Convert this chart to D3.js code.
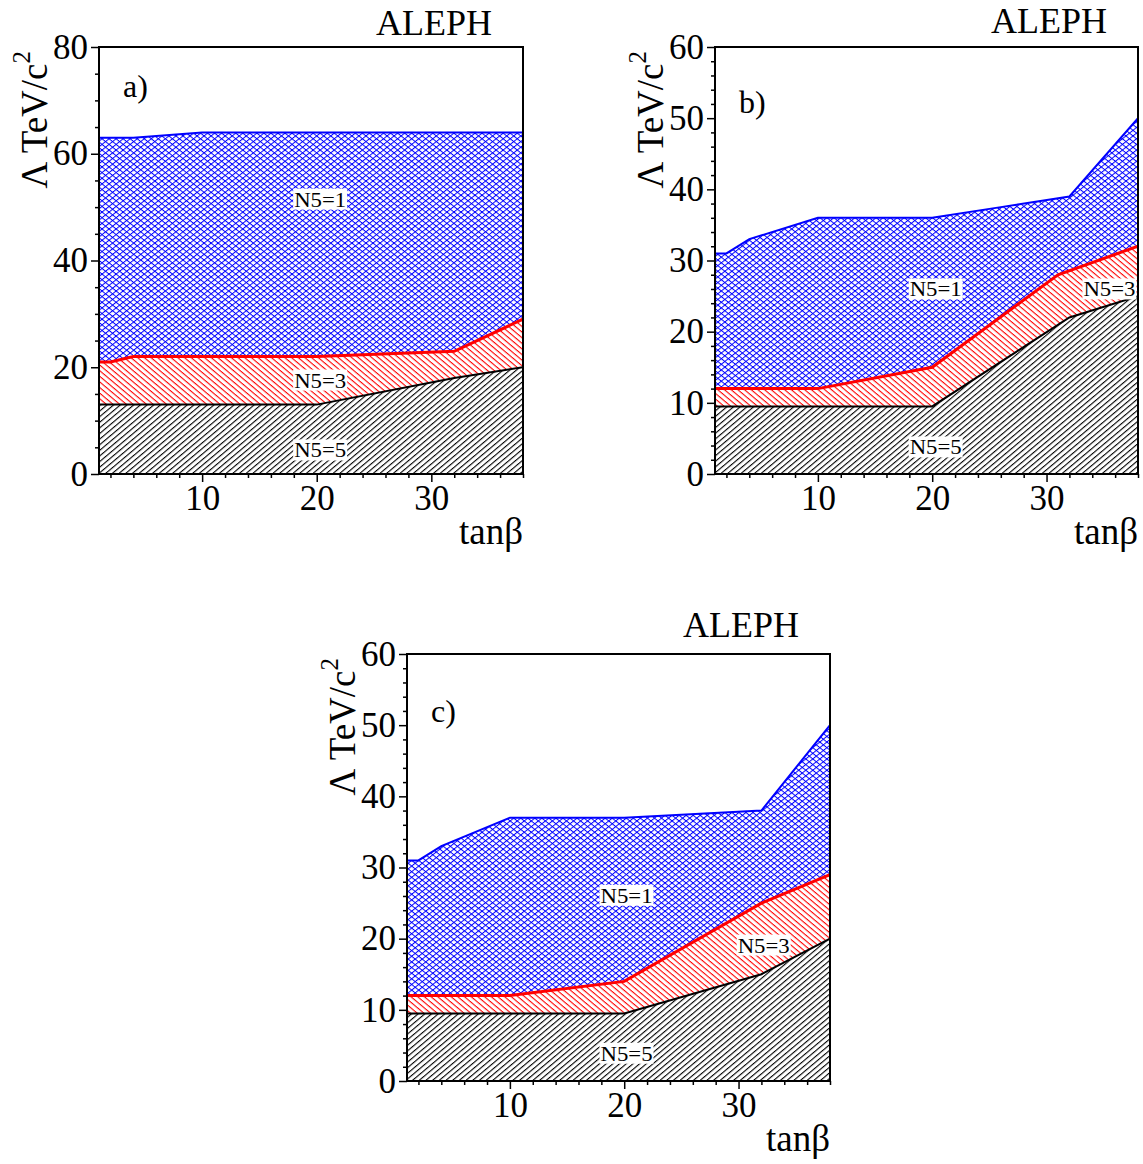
<!DOCTYPE html>
<html><head><meta charset="utf-8">
<script src="https://cdn.jsdelivr.net/npm/d3@7"></script>
<style>
body{margin:0;background:#fff}
text{font-family:"Liberation Serif","Times New Roman",serif;fill:#000}
</style>
</head><body>
<svg id="chart" width="1143" height="1164"></svg>
<script>
// ---------------- data ----------------
const xTicks = [10, 20, 30];
const yTicksA = [0, 20, 40, 60, 80];
const yTicksBC = [0, 10, 20, 30, 40, 50, 60];
const panelNames = ["a)", "b)", "c)"];
const labelTexts = ["N5=1", "N5=3", "N5=5"];

// panel a
const tanbA_n1 = [1, 4, 10, 20, 32, 38];
const lamA_n1  = [63, 63, 64, 64, 64, 64];
const tanbA_n3 = [1, 2, 4, 10, 20, 32, 38];
const lamA_n3  = [21, 21, 22, 22, 22, 23, 29];
const tanbA_n5 = [1, 20, 32, 38];
const lamA_n5  = [13, 13, 18, 20];
const labelA = [[20.3, 51.5], [20.3, 17.6], [20.3, 4.5]];

// panel b
const tanbB_n1 = [1, 2, 4, 10, 20, 26, 32, 38];
const lamB_n1  = [31, 31, 33, 36, 36, 37.5, 39, 50];
const tanbB_n3 = [1, 10, 20, 31, 38];
const lamB_n3  = [12, 12, 15, 28, 32];
const tanbB_n5 = [1, 20, 32, 38];
const lamB_n5  = [9.5, 9.5, 22, 25];
const labelB = [[20.3, 26.0], [35.5, 26.0], [20.3, 3.8]];

// panel c
const tanbC_n1 = [1, 2, 4, 10, 20, 32, 38];
const lamC_n1  = [31, 31, 33, 37, 37, 38, 50];
const tanbC_n3 = [1, 10, 20, 32, 38];
const lamC_n3  = [12, 12, 14, 25, 29];
const tanbC_n5 = [1, 20, 32, 38];
const lamC_n5  = [9.5, 9.5, 15, 20];
const labelC = [[20.2, 26.1], [32.2, 19.1], [20.2, 3.9]];

// ---------------- layout ----------------
const FONT = '"Liberation Serif","Times New Roman",serif';
const svg = d3.select("#chart");
const defs = svg.append("defs");

function hatch(id, color, angle, spacing, w) {
  const p = defs.append("pattern").attr("id", id)
    .attr("patternUnits", "userSpaceOnUse")
    .attr("width", 20).attr("height", spacing)
    .attr("patternTransform", `rotate(${angle})`);
  p.append("rect").attr("x", 0).attr("y", 0).attr("width", 20).attr("height", w).attr("fill", color);
}
hatch("blue1", "#0000ff", -38.7, 4.4, 1.0);
hatch("blue2", "#0000ff", 38.7, 4.4, 1.0);
hatch("red1", "#ff0000", 40, 4.3, 1.1);
hatch("black1", "#000000", -40, 4.3, 1.1);

const panels = [
  {box: {l: 99, t: 47, w: 424, h: 427}, yMax: 80, yTicks: yTicksA, yMinorStep: 5,
   n1: [tanbA_n1, lamA_n1], n3: [tanbA_n3, lamA_n3], n5: [tanbA_n5, lamA_n5], labels: labelA,
   alephDy: -12, nameDy: 50},
  {box: {l: 715, t: 47, w: 423, h: 427}, yMax: 60, yTicks: yTicksBC, yMinorStep: 2,
   n1: [tanbB_n1, lamB_n1], n3: [tanbB_n3, lamB_n3], n5: [tanbB_n5, lamB_n5], labels: labelB,
   alephDy: -14, nameDy: 66},
  {box: {l: 407, t: 654, w: 423, h: 427}, yMax: 60, yTicks: yTicksBC, yMinorStep: 2,
   n1: [tanbC_n1, lamC_n1], n3: [tanbC_n3, lamC_n3], n5: [tanbC_n5, lamC_n5], labels: labelC,
   alephDy: -17, nameDy: 68}
];

panels.forEach((P, i) => {
  const b = P.box;
  const x = d3.scaleLinear().domain([1, 38]).range([b.l, b.l + b.w]);
  const y = d3.scaleLinear().domain([0, P.yMax]).range([b.t + b.h, b.t]);
  const g = svg.append("g");

  const clipId = "clip" + i;
  defs.append("clipPath").attr("id", clipId).append("rect")
    .attr("x", b.l).attr("y", b.t).attr("width", b.w).attr("height", b.h);

  const pts = (arr) => arr[0].map((v, k) => [v, arr[1][k]]);
  const up1 = pts(P.n1), up3 = pts(P.n3), up5 = pts(P.n5);
  const base = [[1, 0], [38, 0]];
  const line = d3.line().x(d => x(d[0])).y(d => y(d[1]));
  const band = (upper, lower) => line(upper.concat(lower.slice().reverse())) + "Z";

  const plot = g.append("g").attr("clip-path", `url(#${clipId})`);
  const dBlue = band(up1, up3), dRed = band(up3, up5), dBlack = band(up5, base);
  plot.append("path").attr("d", dBlue).attr("fill", "url(#blue1)");
  plot.append("path").attr("d", dBlue).attr("fill", "url(#blue2)");
  plot.append("path").attr("d", dRed).attr("fill", "url(#red1)");
  plot.append("path").attr("d", dBlack).attr("fill", "url(#black1)");
  plot.append("path").attr("d", line(up1)).attr("fill", "none").attr("stroke", "#0000ff").attr("stroke-width", 2);
  plot.append("path").attr("d", line(up3)).attr("fill", "none").attr("stroke", "#ff0000").attr("stroke-width", 3);
  plot.append("path").attr("d", line(up5)).attr("fill", "none").attr("stroke", "#000").attr("stroke-width", 2);

  P.labels.forEach((lp, k) => {
    const t = g.append("text").attr("x", x(lp[0])).attr("y", y(lp[1]))
      .attr("text-anchor", "middle").attr("dominant-baseline", "central")
      .attr("font-size", 22).attr("textLength", 52).attr("lengthAdjust", "spacingAndGlyphs")
      .text(labelTexts[k]);
    const bb = t.node().getBBox();
    g.insert("rect", () => t.node()).attr("x", bb.x - 1).attr("y", bb.y + 2)
      .attr("width", bb.width + 2).attr("height", bb.height - 4).attr("fill", "#fff");
  });

  g.append("rect").attr("x", b.l).attr("y", b.t).attr("width", b.w).attr("height", b.h)
    .attr("fill", "none").attr("stroke", "#000").attr("stroke-width", 2);

  const yMinor = d3.range(0, P.yMax + 0.001, P.yMinorStep).filter(v => !P.yTicks.includes(v));
  const axes = g.append("g").attr("font-family", FONT);
  axes.append("g").attr("transform", `translate(${b.l},0)`)
    .call(d3.axisLeft(y).tickValues(P.yTicks).tickSize(8).tickPadding(3).tickFormat(d3.format("d")));
  axes.append("g").attr("transform", `translate(${b.l},0)`)
    .call(d3.axisLeft(y).tickValues(yMinor).tickSize(4).tickFormat(""));
  const xMinor = d3.range(2, 38.001, 2).filter(v => !xTicks.includes(v));
  axes.append("g").attr("transform", `translate(0,${b.t + b.h})`)
    .call(d3.axisBottom(x).tickValues(xTicks).tickSize(8).tickPadding(3).tickFormat(d3.format("d")));
  axes.append("g").attr("transform", `translate(0,${b.t + b.h})`)
    .call(d3.axisBottom(x).tickValues(xMinor).tickSize(4).tickFormat(""));
  axes.selectAll("g").attr("font-family", FONT);
  axes.selectAll(".domain").remove();
  axes.selectAll(".tick line").attr("stroke", "#000").attr("stroke-width", 1.5);
  axes.selectAll(".tick text").attr("font-size", 35).attr("fill", "#000");

  g.append("text").attr("x", b.l + b.w).attr("y", b.t + b.h + 70)
    .attr("text-anchor", "end").attr("font-size", 37).text("tanβ");

  const yt = g.append("text")
    .attr("transform", `translate(${b.l - 52},${b.t + 4}) rotate(-90)`)
    .attr("text-anchor", "end").attr("font-size", 37);
  yt.append("tspan").text("Λ TeV/c");
  yt.append("tspan").attr("font-size", 25).attr("dy", -17).text("2");

  g.append("text").attr("x", b.l + b.w - 31).attr("y", b.t + P.alephDy)
    .attr("text-anchor", "end").attr("font-size", 36).text("ALEPH");

  g.append("text").attr("x", b.l + 24).attr("y", b.t + P.nameDy)
    .attr("font-size", 32).text(panelNames[i]);
});
</script>
</body></html>
